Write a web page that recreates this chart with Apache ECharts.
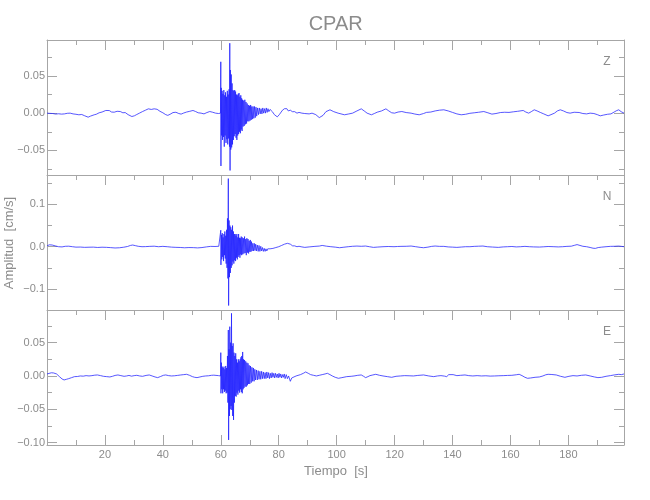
<!DOCTYPE html>
<html>
<head>
<meta charset="utf-8">
<script src="https://cdn.jsdelivr.net/npm/echarts@6/dist/echarts.min.js"></script>
<style>html,body{margin:0;padding:0;background:#fff}#c{width:650px;height:500px}</style>
</head>
<body>
<div id="c"></div>
<script>
// ---------- DATA (time [s], amplitude [cm/s]) ----------
const componentNames = ['Z', 'N', 'E'];
const xTickLabels = [20, 40, 60, 80, 100, 120, 140, 160, 180];
const xMinorTicks = [10, 30, 50, 70, 90, 110, 130, 150, 170, 190];
const yLabelsZ = [-0.05, 0, 0.05];
const yMinorZ = [-0.075, -0.025, 0.025, 0.075];
const yLabelsN = [-0.1, 0, 0.1];
const yMinorN = [-0.05, 0.05, 0.15];
const yLabelsE = [-0.10, -0.05, 0, 0.05];
const yMinorE = [-0.075, -0.025, 0.025, 0.075];

const traceZ = [
[0,0],[1,-0.0003],[2,-0.0005],[3,-0.0012],[4,-0.0008],[5,-0.0013],[6,-0.001],[7,-0.0002],[8,0],[9,-0.001],[10,-0.0015],[11,-0.0022],[12,-0.0018],[13,-0.0035],[14.2,-0.0054],[15,-0.004],[16.3,-0.0022],[17,-0.0015],[18,0.0005],[19,0.0015],[20.3,0.0036],[21.5,0.0035],[22.3,0.0015],[23.2,0.0013],[24.2,0.0025],[25.3,0.0022],[26.2,0.0005],[27,0.0008],[28,-0.002],[29.3,-0.0045],[30.2,-0.0035],[31,-0.0018],[32,0.0002],[33,0.0022],[34,0.004],[35,0.0058],[36,0.005],[37,0.0058],[38,0.0052],[39,0.0025],[40,0.0005],[41,-0.002],[41.7,-0.003],[42.5,-0.0015],[43.5,0.0008],[44.5,0.0012],[45.5,-0.0005],[46.3,-0.0013],[47.2,0.0002],[48.2,0.0015],[49.3,0.0025],[50.4,0.0036],[51.3,0.0022],[52.2,0.0005],[53.2,0],[54.2,-0.001],[55.2,0.0008],[56.2,0.0022],[57.2,0.0012],[58.2,0],[59.2,-0.0005],[59.9,0],
[60.0,0.069],[60.05,-0.071],[60.15,0.034],[60.3,-0.03],[60.45,0.03],[60.6,-0.036],[60.75,0.026],[60.9,-0.032],[61.05,0.031],[61.2,-0.045],[61.35,0.024],[61.5,-0.03],[61.65,0.028],[61.8,-0.04],[61.95,0.022],[62.1,-0.035],[62.25,0.03],[62.4,-0.042],[62.55,0.025],[62.7,-0.034],[62.85,0.032],[63.0,-0.045],[63.1,0.094],[63.2,-0.077],[63.3,0.058],[63.45,-0.049],[63.6,0.052],[63.75,-0.046],[63.9,0.04],[64.05,-0.042],[64.2,0.031],[64.35,-0.036],[64.5,0.03],[64.65,-0.031],[64.8,0.031],[64.95,-0.028],[65.1,0.029],[65.25,-0.033],[65.4,0.025],[65.55,-0.036],[65.7,0.024],[65.85,-0.03],[66.0,0.026],[66.15,-0.028],[66.3,0.027],[66.45,-0.025],[66.6,0.022],[66.75,-0.027],[66.9,0.024],[67.05,-0.022],[67.2,0.02],[67.35,-0.024],[67.5,0.018],[67.7,-0.018],[67.9,0.017],[68.1,-0.017],[68.3,0.018],[68.5,-0.015],[68.7,0.015],[68.9,-0.014],[69.1,0.013],[69.3,-0.011],[69.5,0.011],[69.7,-0.011],[69.9,0.01],[70.1,-0.01],[70.3,0.011],[70.5,-0.009],[70.7,0.009],[70.9,-0.008],[71.15,0.009],[71.4,-0.007],[71.65,0.009],[71.9,-0.006],[72.15,0.008],[72.4,-0.004],[72.7,0.007],[73.0,-0.002],[73.3,0.007],[73.6,-0.001],[73.9,0.006],[74.2,-0.001],[74.5,0.007],[74.8,0],[75.1,0.006],[75.4,0],[75.7,0.007],[76.0,0.001],[76.3,0.006],[76.6,0.002],[77.0,0.005],[77.3,0.004],[77.8,0.002],[78.5,-0.002],[79.5,-0.005],[80.2,-0.002],[80.7,0],[81.3,0.004],[81.6,0.002],[82.0,0.006],[82.4,0.004],[82.8,0.006],[83.3,0.003],[84.0,0.004],[84.7,0.002],[85.5,0.002],[86.3,0],[87.0,0.001],[88.0,0],[89.0,-0.0005],[90.5,-0.001],[91.5,0],[92.8,-0.002],[94.0,-0.006],[94.5,-0.008],[95.3,-0.003],[96.3,0.002],[97.7,0.0045],
[99,0.002],[100.5,0],[101.5,-0.001],[102.7,-0.0022],[104,-0.0012],[105.5,0],[107,0.003],[108.5,0.0058],[109.5,0.003],[110.5,0],[112,-0.0022],[113,-0.0005],[114,0.0013],[115.5,0.003],[117,0.0058],[118,0.003],[119,0.0005],[120,0],[121.2,0.0015],[122.5,0.0022],[124,0.0008],[125.7,0],[127,-0.0012],[128.5,-0.0022],[130,-0.0005],[131,0.001],[132.5,0.0015],[134,0.003],[135.5,0.004],[137,0.0045],[138.5,0.003],[140,0.001],[141.5,-0.001],[143,-0.0022],[144.5,-0.0015],[146,-0.0002],[147.5,0.0005],[149,0.0012],[150.8,0.0022],[152.2,0.0005],[153.6,-0.0013],[155,-0.0005],[156.5,0.0008],[158,0.0012],[159.5,0.001],[161,0.0018],[162.5,0.0025],[164.4,0.0036],[165.3,0.0015],[166.3,0],[167.2,0.002],[168.2,0.0045],[169.2,0.003],[170.3,0.001],[171.5,-0.001],[173,-0.0036],[174,-0.002],[175.2,0],[176.2,0.003],[177.2,0.0045],[178.3,0.003],[179.5,0.0008],[180.6,0],[182,0.0012],[183.7,0.0009],[185,-0.0005],[186.3,-0.001],[187.5,0],[188.8,-0.0005],[190,-0.002],[191,-0.0036],[192.2,-0.0025],[193.5,-0.0015],[194.7,-0.001],[195.8,0.0015],[196.7,0.0035],[197.4,0.0045],[198.2,0.002],[199.2,0]
];

const traceN = [
[0,0.002],[0.8,0.0045],[1.8,0.004],[2.8,0.002],[4,0],[5.2,-0.0005],[6.3,0.001],[7.5,0.0012],[8.8,0],[10,-0.001],[11.5,-0.0008],[13,-0.0015],[14.5,-0.0012],[16,-0.001],[17.5,-0.0018],[19,-0.0012],[20.5,-0.0015],[22,-0.0022],[23.5,-0.003],[25,-0.0025],[26.5,-0.0012],[27.8,0.0005],[28.8,0.003],[29.6,0.004],[30.5,0.0025],[31.5,0.001],[32.8,0],[34,0.0002],[35.5,0.0008],[37,0.0012],[38.5,0],[40,0.0008],[41.5,0],[43,-0.001],[44.5,-0.0015],[46,-0.0018],[47.5,-0.0025],[49,-0.002],[50.5,-0.0022],[52,-0.0028],[53.5,-0.002],[55,-0.0005],[56.5,0.0008],[58,0.0005],[59.3,0.001],[59.9,0],
[60.0,0.039],[60.05,-0.043],[60.2,0.028],[60.35,-0.03],[60.5,0.032],[60.65,-0.024],[60.8,0.022],[60.95,-0.034],[61.1,0.03],[61.25,-0.02],[61.4,0.036],[61.55,-0.028],[61.7,0.026],[61.85,-0.04],[62.0,0.04],[62.15,-0.05],[62.3,0.067],[62.45,-0.075],[62.6,0.161],[62.7,-0.139],[62.85,0.062],[63.0,-0.072],[63.15,0.05],[63.3,-0.062],[63.45,0.046],[63.6,-0.05],[63.75,0.04],[63.9,-0.044],[64.05,0.05],[64.2,-0.035],[64.35,0.036],[64.5,-0.04],[64.65,0.03],[64.8,-0.032],[64.95,0.03],[65.1,-0.034],[65.25,0.026],[65.4,-0.026],[65.55,0.03],[65.7,-0.03],[65.85,0.022],[66.0,-0.024],[66.15,0.03],[66.3,-0.02],[66.45,0.021],[66.6,-0.026],[66.75,0.02],[66.9,-0.018],[67.05,0.024],[67.2,-0.02],[67.4,0.022],[67.6,-0.018],[67.8,0.02],[68.0,-0.016],[68.2,0.024],[68.4,-0.015],[68.6,0.018],[68.8,-0.02],[69.0,0.02],[69.2,-0.014],[69.4,0.018],[69.6,-0.016],[69.8,0.014],[70.0,-0.012],[70.2,0.016],[70.4,-0.012],[70.6,0.012],[70.8,-0.01],[71.05,0.008],[71.3,-0.01],[71.55,0.008],[71.8,-0.009],[72.05,0.006],[72.3,-0.01],[72.6,0.004],[72.9,-0.011],[73.2,0.003],[73.5,-0.011],[73.8,0.001],[74.1,-0.01],[74.4,-0.002],[74.7,-0.011],[75.0,-0.004],[75.3,-0.011],[75.6,-0.005],[75.9,-0.01],[76.2,-0.005],[76.6,-0.009],[77.0,-0.005],[77.5,-0.007],[78.0,-0.004],[78.5,-0.005],[79.0,-0.002],[79.5,-0.003],[80.0,0],[80.5,0],[81.0,0.003],[81.5,0.003],[82.0,0.006],[82.5,0.005],[83.0,0.008],[83.5,0.005],[84.0,0.006],[84.8,0.002],[85.5,0.002],[86.3,0],[87.0,0.001],[88.0,-0.0005],[89.0,-0.0016],[90.5,-0.0005],[92.5,0.0008],[94,0.0015],[95,0.003],[96.5,0.0012],[98,0],
[99.5,-0.001],[101,-0.0024],[102.5,-0.0012],[104,0],[105.5,0.001],[107,0.0015],[108.5,0.001],[110,0.0016],[111.3,0],[112.7,-0.0016],[114.2,-0.0008],[116,0],[117.8,0.0005],[119.8,0],[121,0.0005],[122.2,0.0008],[124,0.001],[125.7,0.0016],[127.3,0],[128.8,-0.0015],[130,-0.0024],[131.5,-0.001],[132.8,0.0008],[134,0.0016],[135.5,0.0008],[137,0.0008],[138.5,-0.0005],[140,-0.001],[141.5,-0.0016],[143,-0.0008],[144.5,0],[146,0],[147.5,0.0008],[149,0.0012],[150.5,0.0016],[152,0],[153.8,-0.0008],[155.8,-0.0016],[157.5,-0.0005],[159,0],[160.5,0.0005],[162,-0.0005],[163.5,0],[165,0.0008],[166.5,0],[168,-0.0005],[170,-0.0008],[171.5,-0.0002],[173,0.0005],[175,0],[176.5,-0.0005],[178,0],[179.5,0.0008],[181,0.0012],[182.2,0.0035],[183,0.005],[184,0.003],[185,0.001],[186.3,0],[187.5,-0.0018],[188.5,-0.0035],[189.3,-0.004],[190.3,-0.002],[191.5,-0.001],[193,0],[194.5,0.0008],[196,0.001],[197.3,0.0015],[198.3,0.0008],[199.2,0]
];

const traceE = [
[0,0.003],[0.5,0.0045],[1.5,0.0048],[2.3,0.0045],[3.3,0.003],[4.3,-0.001],[5.2,-0.0045],[5.9,-0.006],[6.7,-0.005],[7.5,-0.004],[8.5,-0.0025],[9.5,-0.001],[10.5,-0.0008],[11.5,0],[12.5,-0.0003],[13.5,0.0005],[14.5,0],[15.5,0.0005],[16.5,0.0012],[17.4,0.0015],[18.5,0.0005],[19.5,-0.0005],[20.6,-0.001],[21.7,-0.0015],[22.6,-0.0005],[23.5,0.0008],[24.5,0.0015],[25.5,0.0005],[26.6,-0.0005],[27.5,0],[28.3,0.0008],[29.2,-0.0003],[30.1,0.0005],[31,0.001],[32,0],[33,-0.0005],[34.2,0.0008],[35.3,0.0015],[36.3,0],[37.3,-0.0015],[38.2,-0.0025],[39.2,-0.0008],[40.2,0.001],[41,0.0015],[42,0.0005],[43,0],[44,0.0003],[45,0.0008],[46.2,0.0015],[47.2,0.002],[48.2,0.0025],[49.2,0.001],[50.2,-0.001],[51,-0.002],[51.8,-0.0025],[52.8,-0.0015],[53.8,-0.0005],[54.8,0],[55.8,0.0003],[56.8,0.001],[57.6,0.0012],[58.2,0.0015],[59.2,0.0005],[59.9,0],
[60.0,0.035],[60.05,-0.026],[60.2,0.02],[60.35,-0.02],[60.5,0.014],[60.65,-0.026],[60.8,0.012],[60.95,-0.02],[61.1,0.014],[61.25,-0.024],[61.4,0.01],[61.55,-0.022],[61.7,0.015],[61.85,-0.026],[62.0,0.012],[62.15,-0.025],[62.3,0.03],[62.45,-0.04],[62.6,0.069],[62.7,-0.096],[62.85,0.04],[63.0,-0.06],[63.1,0.074],[63.25,-0.05],[63.4,0.05],[63.55,-0.045],[63.7,0.094],[63.8,-0.051],[63.95,0.045],[64.1,-0.06],[64.25,0.049],[64.4,-0.066],[64.55,0.035],[64.7,-0.04],[64.85,0.03],[65.0,-0.03],[65.15,0.034],[65.3,-0.031],[65.45,0.025],[65.6,-0.025],[65.75,0.02],[65.9,-0.028],[66.05,0.025],[66.2,-0.022],[66.35,0.022],[66.5,-0.025],[66.65,0.025],[66.8,-0.02],[66.95,0.028],[67.1,-0.024],[67.25,0.03],[67.4,-0.026],[67.55,0.036],[67.7,-0.02],[67.85,0.025],[68.0,-0.018],[68.2,0.024],[68.4,-0.016],[68.6,0.022],[68.8,-0.016],[69.0,0.02],[69.2,-0.014],[69.4,0.019],[69.6,-0.012],[69.8,0.016],[70.0,-0.012],[70.25,0.015],[70.5,-0.01],[70.75,0.013],[71.0,-0.008],[71.25,0.012],[71.5,-0.008],[71.75,0.01],[72,-0.006],[72.3,0.009],[72.6,-0.006],[72.9,0.008],[73.2,-0.005],[73.5,0.007],[73.8,-0.005],[74.1,0.007],[74.4,-0.004],[74.7,0.006],[75,-0.004],[75.3,0.005],[75.6,-0.004],[75.9,0.006],[76.2,-0.003],[76.5,0.005],[76.8,-0.004],[77.1,0.004],[77.4,-0.003],[77.7,0.005],[78.0,-0.002],[78.3,0.004],[78.6,-0.003],[78.9,0.004],[79.2,-0.002],[79.5,0.003],[79.8,-0.003],[80.1,0.004],[80.4,-0.002],[80.7,0.003],[81.0,-0.003],[81.3,0.002],[81.6,-0.002],[81.9,0.003],[82.2,-0.004],[82.6,0.002],[83.0,-0.004],[83.4,0],[84.0,-0.008],[84.5,-0.003],[85.0,-0.002],[86.0,0],[87.5,0.002],[88.5,0.004],[89.3,0.006],[90.2,0.004],[91,0.002],[92,0.001],[93,0],[94,0.001],[95,0.002],[96,0.003],[96.8,0.004],[97.7,0.002],[98.5,0],[99.5,-0.002],[100.6,-0.0035],
[101.8,-0.0025],[103.5,-0.001],[105,-0.0005],[106,0],[107.3,0.001],[108.5,0.0015],[109.3,-0.0005],[110,-0.0025],[110.8,-0.001],[111.5,0.0005],[112.5,0.0015],[113.5,0.0025],[114.8,0.001],[116,0],[117.5,-0.001],[119,-0.002],[120.5,-0.0005],[122,0],[123.5,0.0005],[125,0.0003],[126.5,0],[128,0.0008],[130,0.0015],[131.8,0],[133.5,-0.001],[134.8,0],[136,0.0005],[137.2,-0.0002],[138,-0.001],[138.7,0.002],[139.3,0.0045],[140.2,0.002],[141.5,0.0005],[142.8,0.001],[144.3,0.0015],[145.6,0.0005],[147,0],[148.5,0.0005],[150,0],[151.5,0.0003],[153,-0.0002],[154.5,0],[156,0.0003],[157.5,0.0005],[159,0.0008],[160.5,0.001],[162,0.0018],[163,0.0025],[164,0.0005],[165,-0.002],[165.9,-0.0035],[167,-0.003],[168.5,-0.002],[170,-0.0015],[171.2,0],[172.2,0.0018],[173,0.0025],[174.3,0.0022],[175.8,0.0015],[177.3,-0.0005],[178.8,-0.002],[180.2,-0.0005],[181.6,0.0005],[183,0],[184.5,0.001],[186,0.0015],[187.5,0],[189,-0.0015],[190.2,-0.0025],[191.5,-0.002],[193,-0.0005],[194.5,0.0005],[195.8,0.0015],[197.4,0.0025],[198.3,0.002],[199.2,0.003]
];

// ---------- LAYOUT / STYLE ----------
const AX = '#a6a6a6';
const TXT = '#8c8c8c';
const LINE = '#1f1fff';
const FONT = 'Liberation Sans, Arial, sans-serif';
const NARROW = 'Liberation Sans Narrow, Liberation Sans, sans-serif';
const X_MIN = 0, X_MAX = 199.2;
const panels = [
  { data: traceZ, min: -0.0831, max: 0.0983, labels: yLabelsZ, minor: yMinorZ, dec: 2 },
  { data: traceN, min: -0.1496, max: 0.1695, labels: yLabelsN, minor: yMinorN, dec: 1 },
  { data: traceE, min: -0.1036, max: 0.0990, labels: yLabelsE, minor: yMinorE, dec: 2 }
];
const gridTops = [40, 175, 310];
const fmt = (dec) => (v) => {
  const s = Math.abs(v).toFixed(dec);
  return (v < -1e-9 ? '\u2212' : '') + s;
};

const grids = [], xAxes = [], yAxes = [], series = [];
panels.forEach((p, g) => {
  grids.push({ left: 47, right: 26, top: gridTops[g], height: 135 });
  const xBase = { type: 'value', gridIndex: g, min: X_MIN, max: X_MAX, splitLine: { show: false } };
  const xMainIdx = xAxes.length;
  xAxes.push(Object.assign({}, xBase, {
    position: 'top',
    axisLine: { show: true, onZero: false, lineStyle: { color: AX, width: 1 } },
    axisTick: { show: true, inside: true, length: 10, customValues: xTickLabels, lineStyle: { color: AX } },
    axisLabel: { show: false }
  }));
  xAxes.push(Object.assign({}, xBase, {
    position: 'top',
    axisLine: { show: false, onZero: false },
    axisTick: { show: true, inside: true, length: 5, customValues: xMinorTicks, lineStyle: { color: AX } },
    axisLabel: { show: false }
  }));
  if (g === panels.length - 1) {
    xAxes.push(Object.assign({}, xBase, {
      position: 'bottom',
      axisLine: { show: true, onZero: false, lineStyle: { color: AX, width: 1 } },
      axisTick: { show: true, inside: true, length: 10, customValues: xTickLabels, lineStyle: { color: AX } },
      axisLabel: { show: true, customValues: xTickLabels, color: TXT, fontSize: 11, fontFamily: FONT, margin: 4 }
    }));
    xAxes.push(Object.assign({}, xBase, {
      position: 'bottom',
      axisLine: { show: false, onZero: false },
      axisTick: { show: true, inside: true, length: 5, customValues: xMinorTicks, lineStyle: { color: AX } },
      axisLabel: { show: false }
    }));
  }
  const yBase = { type: 'value', gridIndex: g, min: p.min, max: p.max, splitLine: { show: false } };
  const yMainIdx = yAxes.length;
  ['left', 'right'].forEach((side) => {
    yAxes.push(Object.assign({}, yBase, {
      position: side,
      axisLine: { show: true, onZero: false, lineStyle: { color: AX, width: 1 } },
      axisTick: { show: true, inside: true, length: 10, customValues: p.labels, lineStyle: { color: AX } },
      axisLabel: side === 'left'
        ? { show: true, customValues: p.labels, formatter: fmt(p.dec), color: TXT, fontSize: 11, fontFamily: FONT, margin: 2 }
        : { show: false }
    }));
    yAxes.push(Object.assign({}, yBase, {
      position: side,
      axisLine: { show: false, onZero: false },
      axisTick: { show: true, inside: true, length: 5, customValues: p.minor, lineStyle: { color: AX } },
      axisLabel: { show: false }
    }));
  });
  series.push({
    type: 'line', xAxisIndex: xMainIdx, yAxisIndex: yMainIdx, data: p.data,
    showSymbol: false, symbol: 'none', sampling: null, clip: true,
    lineStyle: { color: LINE, width: 0.75 }, emphasis: { disabled: true }
  });
});

const graphics = [
  { type: 'text', x: 335.7, y: 14, silent: true,
    style: { text: 'CPAR', fill: TXT, font: '20px ' + NARROW, align: 'center', verticalAlign: 'top', textAlign: 'center', textVerticalAlign: 'top' } },
  { type: 'text', x: 336, y: 465, silent: true,
    style: { text: 'Tiempo  [s]', fill: TXT, font: '13px ' + NARROW, align: 'center', verticalAlign: 'top', textAlign: 'center', textVerticalAlign: 'top' } },
  { type: 'text', x: 9, y: 243, rotation: Math.PI / 2, silent: true,
    style: { text: 'Amplitud  [cm/s]', fill: TXT, font: '13px ' + NARROW, align: 'center', verticalAlign: 'middle', textAlign: 'center', textVerticalAlign: 'middle' } }
];
componentNames.forEach((name, i) => {
  graphics.push({ type: 'text', x: 607, y: gridTops[i] + 16, silent: true,
    style: { text: name, fill: TXT, font: '12px ' + NARROW, align: 'center', verticalAlign: 'top', textAlign: 'center', textVerticalAlign: 'top' } });
});

const chart = echarts.init(document.getElementById('c'), null, { renderer: 'canvas' });
chart.setOption({
  animation: false,
  backgroundColor: '#ffffff',
  grid: grids,
  xAxis: xAxes,
  yAxis: yAxes,
  series: series,
  graphic: graphics
});
</script>
</body>
</html>
